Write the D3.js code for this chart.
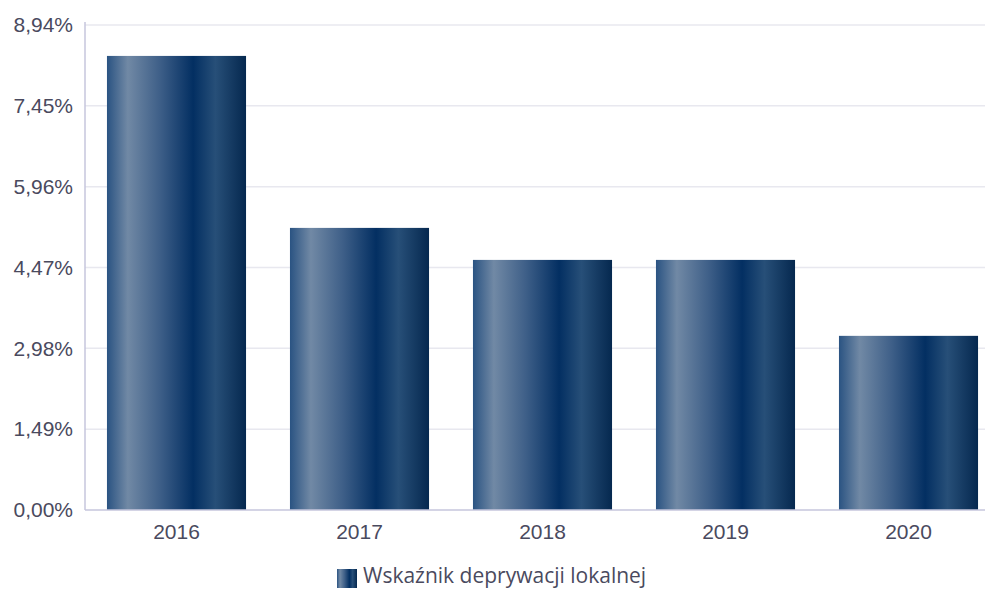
<!DOCTYPE html>
<html>
<head>
<meta charset="utf-8">
<script src="https://cdn.jsdelivr.net/npm/d3@7"></script>
<style>
  body { margin: 0; background: #fff; }
  svg { display: block; font-family: "Open Sans", "Noto Sans", sans-serif; }
</style>
</head>
<body>
<div id="chart"></div>
<script>
// dane
const years = ['2016', '2017', '2018', '2019', '2020'];
const values = [8.37, 5.20, 4.61, 4.61, 3.21];
const yTicks = [0, 1.49, 2.98, 4.47, 5.96, 7.45, 8.94];
const seriesName = 'Wskaźnik deprywacji lokalnej';

const width = 987, height = 591;
const margin = { top: 25, right: 2, bottom: 81, left: 85 };
const innerW = width - margin.left - margin.right;
const innerH = height - margin.top - margin.bottom;

const svg = d3.select('#chart').append('svg')
  .attr('width', width)
  .attr('height', height);

// gradient słupków
const defs = svg.append('defs');
const grad = defs.append('linearGradient')
  .attr('id', 'barGrad')
  .attr('x1', '0%').attr('x2', '100%')
  .attr('y1', '0%').attr('y2', '0%');
[
  [0, '#2a5382'],
  [0.15, '#7189a5'],
  [0.38, '#3e5f88'],
  [0.62, '#032f62'],
  [0.78, '#274f78'],
  [1, '#05284f']
].forEach(([o, c]) => grad.append('stop').attr('offset', o).attr('stop-color', c));

const g = svg.append('g')
  .attr('transform', `translate(${margin.left},${margin.top})`);

// pasma kategorii trochę szersze niż obszar (jak w oryginale)
const x = d3.scaleBand()
  .domain(years)
  .range([0, 915])
  .paddingInner(0.24)
  .paddingOuter(0.12);

const y = d3.scaleLinear()
  .domain([0, 8.94])
  .range([innerH, 0]);

const fmt = v => v.toFixed(2).replace('.', ',') + '%';

// siatka
g.append('g')
  .selectAll('line')
  .data(yTicks.slice(1))
  .join('line')
  .attr('x1', 0)
  .attr('x2', innerW)
  .attr('y1', d => y(d))
  .attr('y2', d => y(d))
  .attr('stroke', '#e8e8ef')
  .attr('stroke-width', 1.5);

// słupki
g.append('g')
  .selectAll('rect')
  .data(values)
  .join('rect')
  .attr('x', (d, i) => x(years[i]))
  .attr('y', d => y(d))
  .attr('width', x.bandwidth())
  .attr('height', d => innerH - y(d))
  .attr('fill', 'url(#barGrad)');

// oś Y
const yAxis = g.append('g')
  .call(d3.axisLeft(y).tickValues(yTicks).tickFormat(fmt).tickSize(0).tickPadding(12));
yAxis.select('.domain').remove();
yAxis.selectAll('text')
  .attr('fill', '#4a4a5e')
  .style('font-size', '21px');

g.append('line')
  .attr('x1', 0).attr('x2', 0)
  .attr('y1', -3).attr('y2', innerH)
  .attr('stroke', '#c6c6dc')
  .attr('stroke-width', 1.5);

// oś X
const xAxis = g.append('g')
  .attr('transform', `translate(0,${innerH})`)
  .call(d3.axisBottom(x).tickSize(0).tickPadding(14));
xAxis.select('.domain').remove();
xAxis.selectAll('text')
  .attr('fill', '#4a4a5e')
  .style('font-size', '21px');

g.append('line')
  .attr('x1', 0).attr('x2', innerW)
  .attr('y1', innerH).attr('y2', innerH)
  .attr('stroke', '#c6c6dc')
  .attr('stroke-width', 1.5);

// legenda
const legend = svg.append('g')
  .attr('transform', 'translate(337,569)');
legend.append('rect')
  .attr('width', 20)
  .attr('height', 19)
  .attr('fill', 'url(#barGrad)');
legend.append('text')
  .attr('x', 26)
  .attr('y', 14)
  .attr('fill', '#4a4a5e')
  .style('font-size', '21px')
  .text(seriesName);
</script>
</body>
</html>
